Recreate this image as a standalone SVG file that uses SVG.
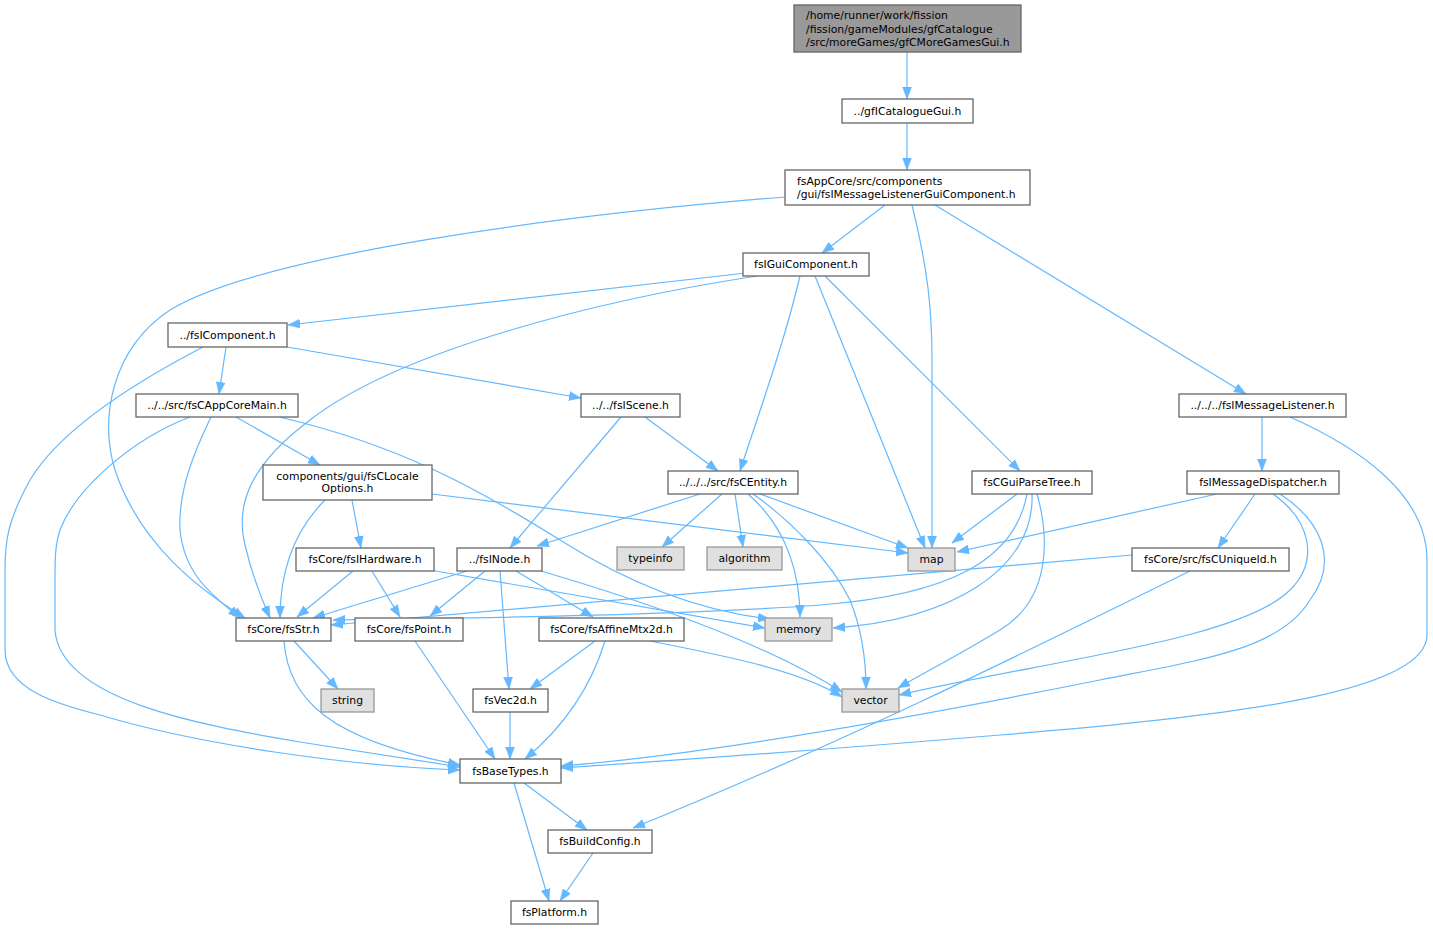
<svg xmlns="http://www.w3.org/2000/svg" width="1433" height="929" viewBox="0 0 1433 929">
<style>
.n rect{fill:#ffffff;stroke:#666666;stroke-width:1.3}
.n.ext rect{fill:#e0e0e0;stroke:#999999}
.n.root rect{fill:#999999;stroke:#666666}
text{font-family:"DejaVu Sans","Liberation Sans",sans-serif;font-size:10.8px;fill:#000000}
.c{text-anchor:middle}
#edges path{fill:none;stroke:#63b8ff;stroke-width:1.2;marker-end:url(#arr)}
</style>
<defs>
<marker id="arr" viewBox="0 0 12 10" refX="12" refY="5" markerWidth="12" markerHeight="10" markerUnits="userSpaceOnUse" orient="auto">
<path d="M0,0.5 L12,5 L0,9.5 z" fill="#63b8ff" stroke="#63b8ff" stroke-width="0.5"/>
</marker>
</defs>
<rect x="0" y="0" width="1433" height="929" fill="#ffffff"/>
<g id="edges">
<path d="M907,52 L907,99"/>
<path d="M907,123 L907,170"/>
<path d="M885,205 L822,253"/>
<path d="M912,205 C928,270 932,310 932,360 L932,548"/>
<path d="M935,205 L1246,394"/>
<path d="M785,197 C560,215 260,255 170,310 C110,350 100,420 115,470 C140,545 200,590 245,618"/>
<path d="M746,273 L288,325"/>
<path d="M757,276 C600,300 400,350 310,420 C250,465 235,505 245,545 C252,575 262,600 270,618"/>
<path d="M800,276 C785,340 760,410 740,471"/>
<path d="M815,276 L925,548"/>
<path d="M825,276 L1020,471"/>
<path d="M226,347 L219,394"/>
<path d="M287,347 L581,398"/>
<path d="M203,347 C130,385 60,430 30,480 C8,520 5,540 5,570 L5,650 C5,690 60,705 100,715 C200,745 350,766 460,770"/>
<path d="M236,417 L320,465"/>
<path d="M211,417 C195,450 178,490 180,530 C185,580 220,600 240,618"/>
<path d="M190,417 C130,440 75,490 60,530 C55,545 55,560 55,580 L55,630 C60,700 200,725 300,742 C380,755 430,762 460,767"/>
<path d="M279,417 C400,445 480,490 560,540 C620,578 690,610 770,619"/>
<path d="M325,500 C295,530 280,570 280,618"/>
<path d="M352,500 L361,548"/>
<path d="M432,494 L908,553"/>
<path d="M621,417 L510,548"/>
<path d="M645,417 L718,471"/>
<path d="M700,494 L537,546"/>
<path d="M722,494 L662,547"/>
<path d="M735,494 L743,547"/>
<path d="M748,494 C790,530 800,580 800,617"/>
<path d="M753,494 C790,520 830,560 850,600 C862,630 866,660 866,689"/>
<path d="M760,494 L908,548"/>
<path d="M467,571 L313,618"/>
<path d="M485,571 L430,616"/>
<path d="M500,571 L509,689"/>
<path d="M516,571 L593,617"/>
<path d="M541,571 C640,600 760,640 842,692"/>
<path d="M650,641 C720,655 800,670 842,697"/>
<path d="M353,571 L297,617"/>
<path d="M372,571 L400,617"/>
<path d="M430,570 L765,628"/>
<path d="M294,641 L338,689"/>
<path d="M284,641 C288,700 330,740 460,765"/>
<path d="M415,641 L495,759"/>
<path d="M595,641 L530,689"/>
<path d="M605,641 C590,690 560,730 525,759"/>
<path d="M510,712 L510,759"/>
<path d="M524,783 L587,830"/>
<path d="M514,783 L549,901"/>
<path d="M593,853 L560,901"/>
<path d="M1262,417 L1262,471"/>
<path d="M1290,417 C1360,448 1427,495 1427,560 L1427,635 C1427,690 1250,715 1000,735 C800,752 650,762 561,768"/>
<path d="M1217,494 L957,552"/>
<path d="M1255,494 L1218,548"/>
<path d="M1273,494 C1310,520 1320,560 1290,590 C1240,640 1050,660 899,695"/>
<path d="M1280,494 C1320,520 1340,560 1310,600 C1280,650 1200,660 1100,680 C900,720 700,755 561,766"/>
<path d="M1132,555 L331,625"/>
<path d="M1190,571 C1050,640 850,740 633,828"/>
<path d="M1017,494 L952,543"/>
<path d="M1027,494 C1015,560 950,595 820,605 C700,614 500,618 333,620"/>
<path d="M1032,494 C1035,570 950,620 833,628"/>
<path d="M1037,494 C1050,540 1050,600 1000,630 C950,660 920,675 898,688"/>
</g>
<g id="node_root" class="n root"><rect x="794" y="5" width="227" height="47"/>
<text x="806" y="19">/home/runner/work/fission</text><text x="806" y="33">/fission/gameModules/gfCatalogue</text><text x="806" y="46">/src/moreGames/gfCMoreGamesGui.h</text></g>
<g id="node_gfICatalogueGui" class="n"><rect x="842" y="99" width="131" height="24"/><text class="c" x="907.5" y="115">../gfICatalogueGui.h</text></g>
<g id="node_guicomp" class="n"><rect x="785" y="170" width="245" height="35"/>
<text x="797" y="185">fsAppCore/src/components</text><text x="797" y="198">/gui/fsIMessageListenerGuiComponent.h</text></g>
<g id="node_fsIGuiComponent" class="n"><rect x="743" y="253" width="126" height="23"/><text class="c" x="806" y="268">fsIGuiComponent.h</text></g>
<g id="node_fsIComponent" class="n"><rect x="168" y="323" width="119" height="24"/><text class="c" x="227.5" y="339">../fsIComponent.h</text></g>
<g id="node_fsCAppCoreMain" class="n"><rect x="136" y="394" width="162" height="23"/><text class="c" x="217" y="409">../../src/fsCAppCoreMain.h</text></g>
<g id="node_fsCLocaleOptions" class="n"><rect x="263" y="465" width="169" height="35"/>
<text class="c" x="347.5" y="480">components/gui/fsCLocale</text><text class="c" x="347.5" y="492">Options.h</text></g>
<g id="node_fsIScene" class="n"><rect x="581" y="394" width="99" height="23"/><text class="c" x="630.5" y="409">../../fsIScene.h</text></g>
<g id="node_fsCEntity" class="n"><rect x="668" y="471" width="130" height="23"/><text class="c" x="733" y="486">../../../src/fsCEntity.h</text></g>
<g id="node_typeinfo" class="n ext"><rect x="617" y="547" width="67" height="23"/><text class="c" x="650.5" y="562">typeinfo</text></g>
<g id="node_algorithm" class="n ext"><rect x="707" y="547" width="75" height="23"/><text class="c" x="744.5" y="562">algorithm</text></g>
<g id="node_fsIMessageListener" class="n"><rect x="1179" y="394" width="167" height="23"/><text class="c" x="1262.5" y="409">../../../fsIMessageListener.h</text></g>
<g id="node_fsCGuiParseTree" class="n"><rect x="972" y="471" width="120" height="23"/><text class="c" x="1032" y="486">fsCGuiParseTree.h</text></g>
<g id="node_fsIMessageDispatcher" class="n"><rect x="1187" y="471" width="152" height="23"/><text class="c" x="1263" y="486">fsIMessageDispatcher.h</text></g>
<g id="node_fsCUniqueId" class="n"><rect x="1132" y="548" width="157" height="23"/><text class="c" x="1210.5" y="563">fsCore/src/fsCUniqueId.h</text></g>
<g id="node_map" class="n ext"><rect x="908" y="548" width="47" height="23"/><text class="c" x="931.5" y="563">map</text></g>
<g id="node_vector" class="n ext"><rect x="842" y="689" width="57" height="23"/><text class="c" x="870.5" y="704">vector</text></g>
<g id="node_memory" class="n ext"><rect x="765" y="618" width="67" height="23"/><text class="c" x="798.5" y="633">memory</text></g>
<g id="node_fsINode" class="n"><rect x="457" y="548" width="85" height="23"/><text class="c" x="499.5" y="563">../fsINode.h</text></g>
<g id="node_fsIHardware" class="n"><rect x="296" y="548" width="138" height="23"/><text class="c" x="365" y="563">fsCore/fsIHardware.h</text></g>
<g id="node_fsStr" class="n"><rect x="236" y="618" width="95" height="23"/><text class="c" x="283.5" y="633">fsCore/fsStr.h</text></g>
<g id="node_fsPoint" class="n"><rect x="355" y="618" width="108" height="23"/><text class="c" x="409" y="633">fsCore/fsPoint.h</text></g>
<g id="node_fsAffineMtx2d" class="n"><rect x="539" y="618" width="145" height="23"/><text class="c" x="611.5" y="633">fsCore/fsAffineMtx2d.h</text></g>
<g id="node_string" class="n ext"><rect x="321" y="689" width="53" height="23"/><text class="c" x="347.5" y="704">string</text></g>
<g id="node_fsVec2d" class="n"><rect x="473" y="689" width="75" height="23"/><text class="c" x="510.5" y="704">fsVec2d.h</text></g>
<g id="node_fsBaseTypes" class="n"><rect x="460" y="759" width="101" height="24"/><text class="c" x="510.5" y="775">fsBaseTypes.h</text></g>
<g id="node_fsBuildConfig" class="n"><rect x="548" y="830" width="104" height="23"/><text class="c" x="600" y="845">fsBuildConfig.h</text></g>
<g id="node_fsPlatform" class="n"><rect x="511" y="901" width="87" height="23"/><text class="c" x="554.5" y="916">fsPlatform.h</text></g>
</svg>
